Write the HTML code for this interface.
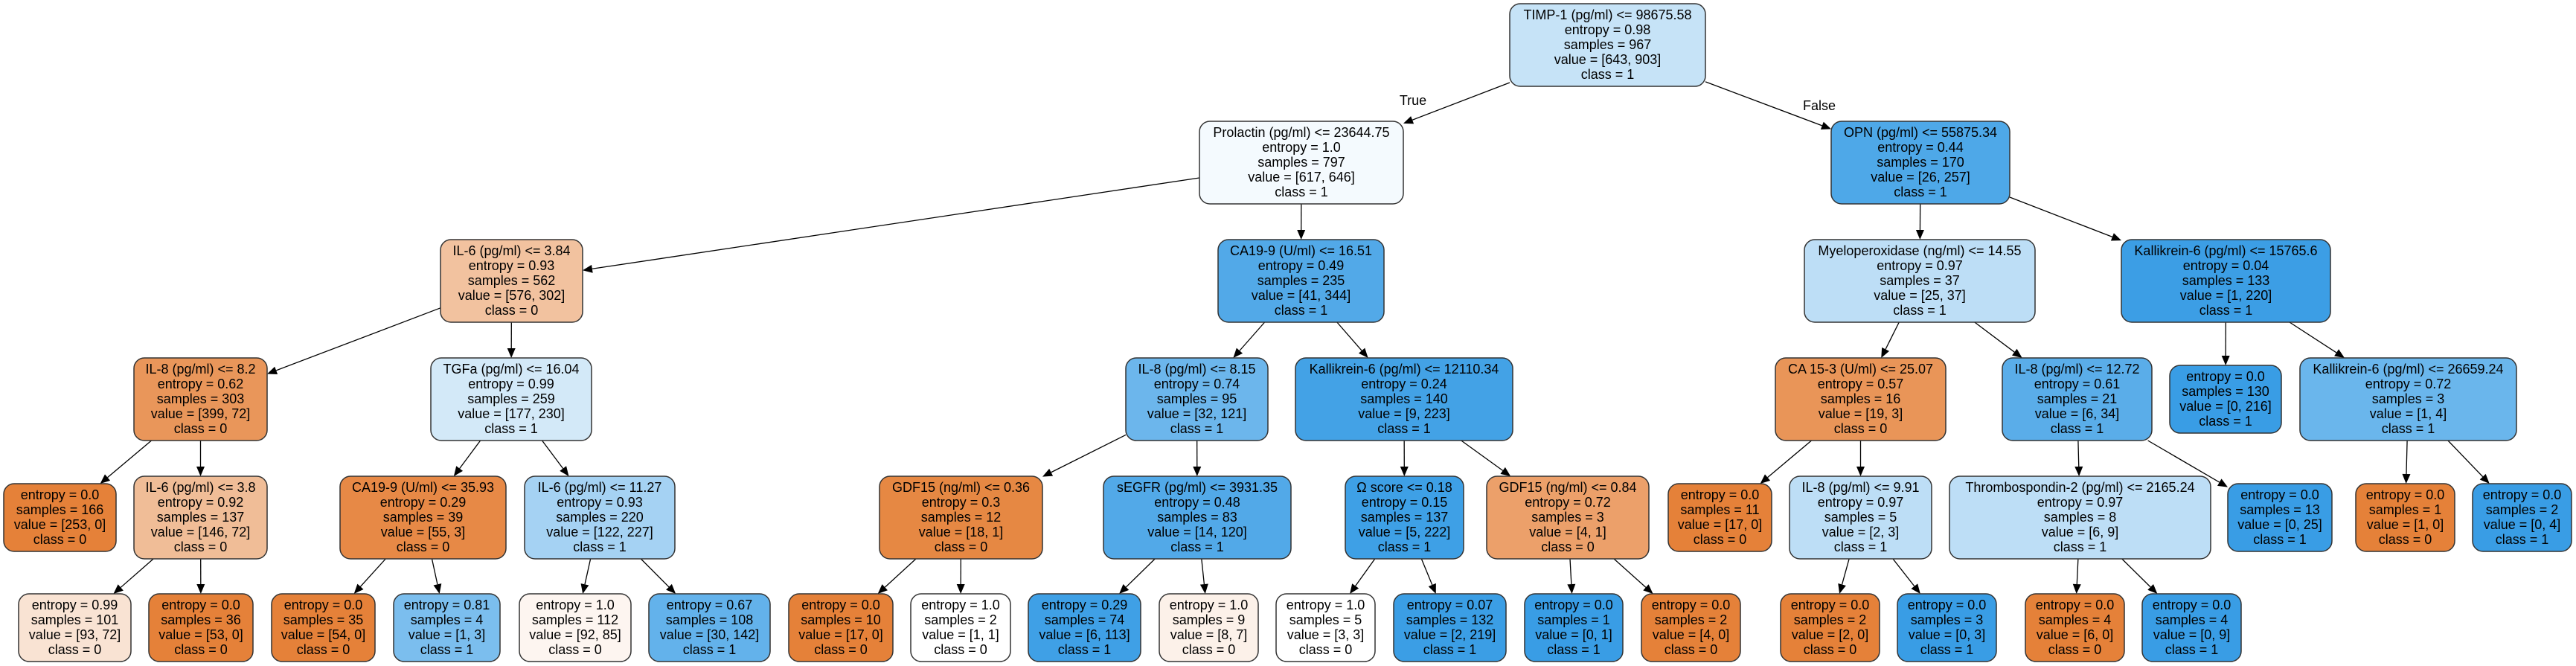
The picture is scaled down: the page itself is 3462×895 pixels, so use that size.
<!DOCTYPE html>
<html><head><meta charset="utf-8"><style>
html,body{margin:0;padding:0;background:#fff;}
svg{display:block;}
text{font-family:"Liberation Sans",Arial,sans-serif;font-size:18px;fill:#000;}
</style></head><body>
<svg id="s" width="3462" height="895" xmlns="http://www.w3.org/2000/svg"></svg>
<script>
const LT=[5,163,322,481,640,798];
const N={};
function nd(id,lvl,x1,x2,col,lines,leaf,par){
  let h=leaf?91:111; let y=LT[lvl]+(leaf&&lvl<5?10:0);
  N[id]={x1,x2,y1:y,y2:y+h,col,lines,par};
}
// level 0-2
nd('r',0,2029,2292,'#c6e3f7',['TIMP-1 (pg/ml) <= 98675.58','entropy = 0.98','samples = 967','value = [643, 903]','class = 1']);
nd('pr',1,1612,1886,'#f4fafe',['Prolactin (pg/ml) <= 23644.75','entropy = 1.0','samples = 797','value = [617, 646]','class = 1'],0,'r');
nd('op',1,2461,2701,'#4ea8e8',['OPN (pg/ml) <= 55875.34','entropy = 0.44','samples = 170','value = [26, 257]','class = 1'],0,'r');
nd('il6',2,592,783,'#f2c29f',['IL-6 (pg/ml) <= 3.84','entropy = 0.93','samples = 562','value = [576, 302]','class = 0'],0,'pr');
nd('ca',2,1637,1860,'#52a9e8',['CA19-9 (U/ml) <= 16.51','entropy = 0.49','samples = 235','value = [41, 344]','class = 1'],0,'pr');
nd('my',2,2425,2735,'#bddef6',['Myeloperoxidase (ng/ml) <= 14.55','entropy = 0.97','samples = 37','value = [25, 37]','class = 1'],0,'op');
nd('k1',2,2851,3132,'#3c9ee5',['Kallikrein-6 (pg/ml) <= 15765.6','entropy = 0.04','samples = 133','value = [1, 220]','class = 1'],0,'op');
// level 3
nd('a1',3,180,359,'#e9965a',['IL-8 (pg/ml) <= 8.2','entropy = 0.62','samples = 303','value = [399, 72]','class = 0'],0,'il6');
nd('a2',3,579,795,'#d3e9f8',['TGFa (pg/ml) <= 16.04','entropy = 0.99','samples = 259','value = [177, 230]','class = 1'],0,'il6');
nd('a3',3,1513,1704,'#6cb6ec',['IL-8 (pg/ml) <= 8.15','entropy = 0.74','samples = 95','value = [32, 121]','class = 1'],0,'ca');
nd('a4',3,1741,2033,'#43a2e6',['Kallikrein-6 (pg/ml) <= 12110.34','entropy = 0.24','samples = 140','value = [9, 223]','class = 1'],0,'ca');
nd('a5',3,2386,2615,'#e99558',['CA 15-3 (U/ml) <= 25.07','entropy = 0.57','samples = 16','value = [19, 3]','class = 0'],0,'my');
nd('a6',3,2691,2892,'#5aade9',['IL-8 (pg/ml) <= 12.72','entropy = 0.61','samples = 21','value = [6, 34]','class = 1'],0,'my');
nd('a7',3,2916,3066,'#399de5',['entropy = 0.0','samples = 130','value = [0, 216]','class = 1'],1,'k1');
nd('a8',3,3091,3382,'#6ab6ec',['Kallikrein-6 (pg/ml) <= 26659.24','entropy = 0.72','samples = 3','value = [1, 4]','class = 1'],0,'k1');
// level 4
nd('b1',4,5,156,'#e58139',['entropy = 0.0','samples = 166','value = [253, 0]','class = 0'],1,'a1');
nd('b2',4,180,359,'#f0bd97',['IL-6 (pg/ml) <= 3.8','entropy = 0.92','samples = 137','value = [146, 72]','class = 0'],0,'a1');
nd('b3',4,457,680,'#e78946',['CA19-9 (U/ml) <= 35.93','entropy = 0.29','samples = 39','value = [55, 3]','class = 0'],0,'a2');
nd('b4',4,705,907,'#a5d2f3',['IL-6 (pg/ml) <= 11.27','entropy = 0.93','samples = 220','value = [122, 227]','class = 1'],0,'a2');
nd('b5',4,1182,1401,'#e68843',['GDF15 (ng/ml) <= 0.36','entropy = 0.3','samples = 12','value = [18, 1]','class = 0'],0,'a3');
nd('b6',4,1483,1735,'#52a9e8',['sEGFR (pg/ml) <= 3931.35','entropy = 0.48','samples = 83','value = [14, 120]','class = 1'],0,'a3');
nd('b7',4,1808,1967,'#3ea0e6',['\u03a9 score <= 0.18','entropy = 0.15','samples = 137','value = [5, 222]','class = 1'],0,'a4');
nd('b8',4,1998,2216,'#eca06a',['GDF15 (ng/ml) <= 0.84','entropy = 0.72','samples = 3','value = [4, 1]','class = 0'],0,'a4');
nd('b9',4,2242,2381,'#e58139',['entropy = 0.0','samples = 11','value = [17, 0]','class = 0'],1,'a5');
nd('b10',4,2405,2596,'#bddef6',['IL-8 (pg/ml) <= 9.91','entropy = 0.97','samples = 5','value = [2, 3]','class = 1'],0,'a5');
nd('b11',4,2620,2971,'#bddef6',['Thrombospondin-2 (pg/ml) <= 2165.24','entropy = 0.97','samples = 8','value = [6, 9]','class = 1'],0,'a6');
nd('b12',4,2994,3134,'#399de5',['entropy = 0.0','samples = 13','value = [0, 25]','class = 1'],1,'a6');
nd('b13',4,3166,3299,'#e58139',['entropy = 0.0','samples = 1','value = [1, 0]','class = 0'],1,'a8');
nd('b14',4,3323,3456,'#399de5',['entropy = 0.0','samples = 2','value = [0, 4]','class = 1'],1,'a8');
// level 5
const L5=[
[25,176,'#f9e3d3','0.99','101','[93, 72]','0','b2'],
[200,340,'#e58139','0.0','36','[53, 0]','0','b2'],
[365,504,'#e58139','0.0','35','[54, 0]','0','b3'],
[529,672,'#7bbeee','0.81','4','[1, 3]','1','b3'],
[698,848,'#fdf5f0','1.0','112','[92, 85]','0','b4'],
[872,1035,'#63b2eb','0.67','108','[30, 142]','1','b4'],
[1060,1200,'#e58139','0.0','10','[17, 0]','0','b5'],
[1224,1358,'#ffffff','1.0','2','[1, 1]','0','b5'],
[1382,1533,'#3fa0e6','0.29','74','[6, 113]','1','b6'],
[1558,1691,'#fcf1e9','1.0','9','[8, 7]','0','b6'],
[1715,1848,'#ffffff','1.0','5','[3, 3]','0','b7'],
[1873,2024,'#3b9ee5','0.07','132','[2, 219]','1','b7'],
[2049,2181,'#399de5','0.0','1','[0, 1]','1','b8'],
[2206,2339,'#e58139','0.0','2','[4, 0]','0','b8'],
[2393,2526,'#e58139','0.0','2','[2, 0]','0','b10'],
[2550,2683,'#399de5','0.0','3','[0, 3]','1','b10'],
[2722,2855,'#e58139','0.0','4','[6, 0]','0','b11'],
[2879,3012,'#399de5','0.0','4','[0, 9]','1','b11']];
L5.forEach((a,i)=>nd('c'+i,5,a[0],a[1],a[2],['entropy = '+a[3],'samples = '+a[4],'value = '+a[5],'class = '+a[6]],1,a[7]));

const NS='http://www.w3.org/2000/svg';const S=document.getElementById('s');
function el(t,at,txt){const e=document.createElementNS(NS,t);for(const k in at)e.setAttribute(k,at[k]);if(txt!=null)e.textContent=txt;S.appendChild(e);return e;}
function exitT(r,cx,cy,dx,dy){ // t at which ray from center exits rect
  let tx=dx!==0?((dx>0?r.x2:r.x1)-cx)/dx:Infinity;
  let ty=dy!==0?((dy>0?r.y2:r.y1)-cy)/dy:Infinity;
  return Math.min(tx,ty);}
// edges
for(const id in N){const c=N[id];if(!c.par)continue;const p=N[c.par];
  const px=(p.x1+p.x2)/2,py=(p.y1+p.y2)/2,cx=(c.x1+c.x2)/2,cy=(c.y1+c.y2)/2;
  const dx=cx-px,dy=cy-py;
  const t1=exitT(p,px,py,dx,dy);
  const t2=1-exitT(c,cx,cy,-dx,-dy);
  const sx=px+dx*t1,sy=py+dy*t1,ex=px+dx*t2,ey=py+dy*t2;
  const len=Math.hypot(ex-sx,ey-sy),ux=(ex-sx)/len,uy=(ey-sy)/len;
  const AL=13,AW=5.5;
  const bx=ex-ux*AL,by=ey-uy*AL;
  el('line',{x1:sx,y1:sy,x2:bx,y2:by,stroke:'#000','stroke-width':1.3});
  el('polygon',{points:`${ex},${ey} ${bx-uy*AW},${by+ux*AW} ${bx+uy*AW},${by-ux*AW}`,fill:'#000'});
}
for(const id in N){const n=N[id];
  el('rect',{x:n.x1,y:n.y1,width:n.x2-n.x1,height:n.y2-n.y1,rx:14,ry:14,fill:n.col,stroke:'#333','stroke-width':1.5});
  const cx=(n.x1+n.x2)/2;
  n.lines.forEach((l,i)=>el('text',{x:cx,y:n.y1+21+i*20,'text-anchor':'middle'},l));
}
el('text',{x:1899,y:141,'text-anchor':'middle'},'True');
el('text',{x:2445,y:148,'text-anchor':'middle'},'False');
</script>
</body></html>
